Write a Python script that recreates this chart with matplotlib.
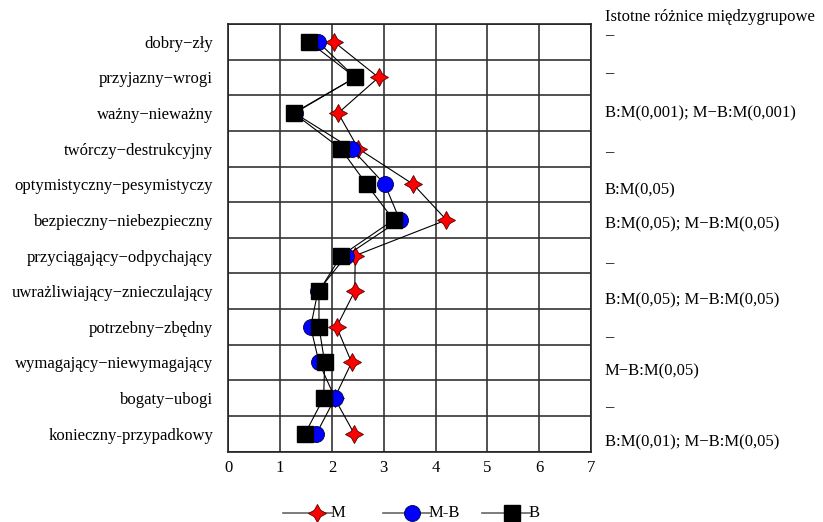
import matplotlib
matplotlib.use("Agg")
import matplotlib.pyplot as plt
from matplotlib.lines import Line2D
import numpy as np

categories = [
    "dobry\u2212zły", "przyjazny\u2212wrogi", "ważny\u2212nieważny", "twórczy\u2212destrukcyjny",
    "optymistyczny\u2212pesymistyczy", "bezpieczny\u2212niebezpieczny",
    "przyciągający\u2212odpychający", "uwrażliwiający\u2212znieczulający",
    "potrzebny\u2212zbędny", "wymagający\u2212niewymagający", "bogaty\u2212ubogi",
    "konieczny-przypadkowy",
]
M = [2.04, 2.90, 2.12, 2.51, 3.57, 4.21, 2.45, 2.44, 2.09, 2.38, 2.05, 2.43]
MB = [1.73, 2.45, 1.28, 2.38, 3.02, 3.31, 2.28, 1.73, 1.59, 1.75, 2.06, 1.70]
B = [1.56, 2.45, 1.26, 2.17, 2.67, 3.19, 2.18, 1.75, 1.75, 1.86, 1.84, 1.48]
annotations = [
    "\u2013", "\u2013", "B:M(0,001); M\u2212B:M(0,001)", "\u2013", "B:M(0,05)",
    "B:M(0,05); M\u2212B:M(0,05)", "\u2013", "B:M(0,05); M\u2212B:M(0,05)", "\u2013",
    "M\u2212B:M(0,05)", "\u2013", "B:M(0,01); M\u2212B:M(0,05)",
]
header = "Istotne różnice międzygrupowe"
xticks = [0, 1, 2, 3, 4, 5, 6, 7]
series_names = ["M", "M-B", "B"]

plt.rcParams['font.family'] = ['Liberation Serif', 'DejaVu Serif']

W, H = 823, 522
fig = plt.figure(figsize=(W / 100, H / 100), dpi=100)
ax = fig.add_axes([0.2774, 0.135, 0.4407, 0.819])

styles = [
    dict(marker=(4, 1, 0), markersize=13, markerfacecolor='red',
         markeredgecolor='#550000', markeredgewidth=0.6, zorder=3),
    dict(marker='o', markersize=11.5, markerfacecolor='blue',
         markeredgecolor='#000044', markeredgewidth=0.6, zorder=4),
    dict(marker='s', markersize=11, markerfacecolor='black',
         markeredgecolor='black', zorder=5),
]

y = np.arange(len(categories))
for vals, st in zip([M, MB, B], styles):
    ax.plot(vals, y, color='black', lw=0.8, **st)

ax.set_xlim(0, 7)
ax.set_ylim(len(categories) - 0.5, -0.5)
ax.set_xticks(xticks)
ax.set_xticklabels([str(t) for t in xticks], fontsize=12)
ax.set_yticks(y)
ax.set_yticklabels(categories, fontsize=12)
ax.set_yticks(np.arange(-0.5, len(categories), 1), minor=True)
ax.tick_params(axis='both', which='both', length=0)
ax.tick_params(axis='y', pad=11)
ax.tick_params(axis='x', pad=6)
ax.grid(True, which='major', axis='x', color='#333333', lw=1.2)
ax.grid(True, which='minor', axis='y', color='#333333', lw=1.2)
for s in ax.spines.values():
    s.set_color('#222222')
    s.set_linewidth(1.2)

# right-hand column of text (laid out as lines of a text block, pixel rows)
text_x = 605 / W
line_px = [35, 73, 113, 152, 190, 224, 263, 300, 337, 371, 407, 442]
fig.text(text_x, 1 - 16.7 / H, header, ha='left', va='center', fontsize=12)
for a, py in zip(annotations, line_px):
    fig.text(text_x, 1 - py / H, a, ha='left', va='center', fontsize=12)

# legend (manual layout, figure pixel positions)
leg_y = 1 - 513 / H
leg_layout = [(283, 332, 316.7, 331), (383, 430, 411.7, 429), (482, 530, 511.7, 529)]
for name, st, (x0, x1, xm, xt) in zip(series_names, styles, leg_layout):
    fig.add_artist(Line2D([x0 / W, x1 / W], [leg_y, leg_y], transform=fig.transFigure,
                          color='#666666', lw=1.2))
    st2 = {k: v for k, v in st.items() if k != 'zorder'}
    fig.add_artist(Line2D([xm / W], [leg_y], transform=fig.transFigure, linestyle='none', **st2))
    fig.text(xt / W, leg_y, name, ha='left', va='center', fontsize=12)

fig.savefig("out.png", dpi=100)
